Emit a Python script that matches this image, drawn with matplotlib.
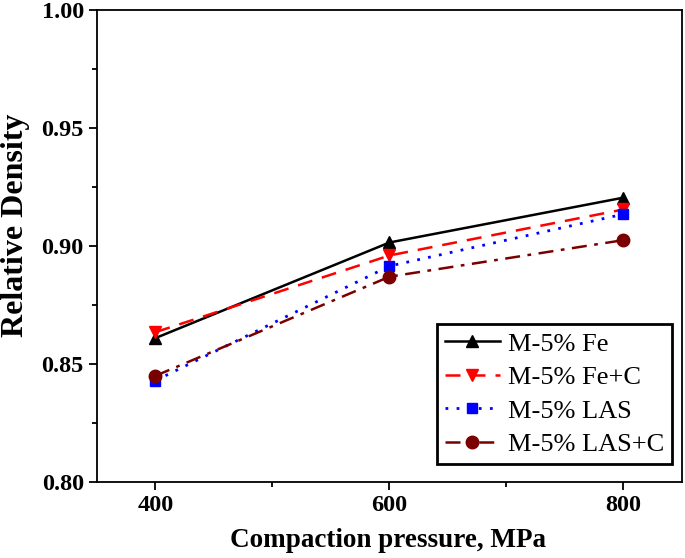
import matplotlib
matplotlib.use("Agg")
from matplotlib import pyplot as plt
from matplotlib.ticker import MultipleLocator

pressure = [400, 600, 800]
fe = [0.861, 0.9015, 0.9205]
fe_c = [0.8635, 0.8960, 0.9155]
las = [0.8430, 0.8915, 0.9135]
las_c = [0.8450, 0.8870, 0.9025]
labels = ["M-5% Fe", "M-5% Fe+C", "M-5% LAS", "M-5% LAS+C"]

plt.rcParams['font.family'] = ['Liberation Serif', 'DejaVu Serif']

fig = plt.figure(figsize=(6.85, 5.58), dpi=100)
ax = fig.add_axes([0.1416, 0.1362, 0.8540, 0.8458])

ax.plot(pressure, fe, color='black', linestyle='-', marker='^', markersize=9, linewidth=1.8, label=labels[0])
ax.plot(pressure, fe_c, color='red', linestyle=(0, (6, 4)), marker='v', markersize=9, linewidth=1.8, label=labels[1])
ax.plot(pressure, las, color='blue', linestyle=(0, (1, 3)), marker='s', markersize=7.5, linewidth=2, label=labels[2])
ax.plot(pressure, las_c, color='#7a0000', linestyle=(0, (6, 3, 1.5, 3)), marker='o', markersize=9, linewidth=1.8, label=labels[3])

ax.set_xlim(350, 850)
ax.set_ylim(0.80, 1.00)
ax.xaxis.set_major_locator(MultipleLocator(200))
ax.xaxis.set_minor_locator(MultipleLocator(100))
ax.yaxis.set_major_locator(MultipleLocator(0.05))
ax.yaxis.set_minor_locator(MultipleLocator(0.025))
ax.yaxis.set_major_formatter(plt.FormatStrFormatter('%.2f'))

for s in ax.spines.values():
    s.set_linewidth(1.3)
ax.tick_params(which='major', direction='out', length=6, width=1.3, labelsize=17.5, top=False, right=False)
ax.tick_params(which='minor', direction='out', length=3.5, width=1.3, top=False, right=False)
for lab in ax.get_xticklabels() + ax.get_yticklabels():
    lab.set_fontweight('bold')

ax.set_xlabel("Compaction pressure, MPa", fontsize=19.5, fontweight='bold', va='center')
ax.set_ylabel("Relative Density", fontsize=23, fontweight='bold', va='center')
ax.xaxis.set_label_coords(0.498, -0.125)
ax.yaxis.set_label_coords(-0.14, 0.545)

leg = ax.legend(loc='lower right', bbox_to_anchor=(0.983, 0.038), fontsize=19, fancybox=False,
                edgecolor='black', framealpha=1, handlelength=2.1, borderpad=0.3,
                labelspacing=0.38, handletextpad=0.3, borderaxespad=0)
leg.get_frame().set_linewidth(2)

fig.savefig("out.png", dpi=100)
